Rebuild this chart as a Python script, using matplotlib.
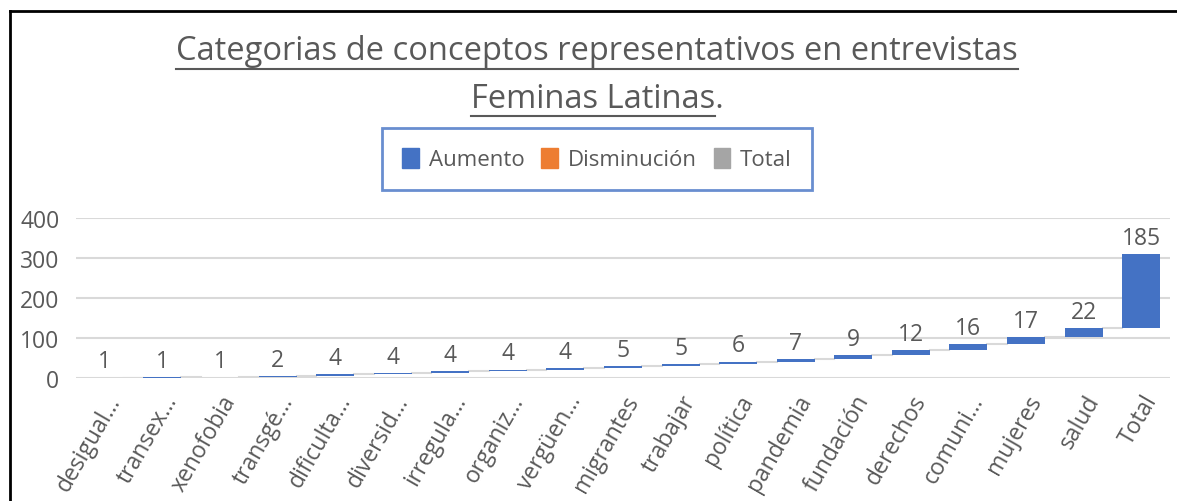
import matplotlib
matplotlib.use('Agg')
from matplotlib import pyplot as plt
from matplotlib import font_manager
from matplotlib.patches import Rectangle
from matplotlib.lines import Line2D

categorias = ['desigual…', 'transex…', 'xenofobia', 'transgé…', 'dificulta…', 'diversid…',
              'irregula…', 'organiz…', 'vergüen…', 'migrantes', 'trabajar', 'política',
              'pandemia', 'fundación', 'derechos', 'comuni…', 'mujeres', 'salud', 'Total']
valores = [1, 1, 1, 2, 4, 4, 4, 4, 4, 5, 5, 6, 7, 9, 12, 16, 17, 22, 185]
y_ticks = [0, 100, 200, 300, 400]
leyenda = ['Aumento', 'Disminución', 'Total']

azul = '#4472C4'
naranja = '#ED7D31'
gris = '#A5A5A5'
texto = '#595959'

nombres = [f.name for f in font_manager.fontManager.ttflist]
fuente = 'Liberation Sans Narrow' if 'Liberation Sans Narrow' in nombres else 'Open Sans'
plt.rcParams['font.family'] = [fuente, 'DejaVu Sans']

fig = plt.figure(figsize=(11.77, 5.02), dpi=100)
ax = fig.add_axes([76 / 1177, 123 / 502, 1094 / 1177, 160 / 502])

# waterfall: cada barra empieza donde termina la anterior
inicio = []
acum = 0
for v in valores:
    inicio.append(acum)
    acum += v

x = list(range(len(valores)))
ax.bar(x, valores, bottom=inicio, width=0.66, color=azul, zorder=3)
for i, v in enumerate(valores):
    ax.annotate(str(v), (i, inicio[i] + v), xytext=(0, 3), textcoords='offset points',
                ha='center', va='bottom', fontsize=16.5, color=texto)
    if i < len(valores) - 1:
        ax.plot([i + 0.33, i + 1 - 0.33], [inicio[i] + v] * 2, color='#D9D9D9', lw=1.5, zorder=2)

ax.set_xlim(-0.5, len(valores) - 0.5)
ax.set_ylim(0, 400)
ax.set_yticks(y_ticks)
ax.set_yticklabels([str(t) for t in y_ticks], fontsize=16.5, color=texto)
ax.set_xticks(x)
ax.set_xticklabels(categorias, rotation=60, ha='right', rotation_mode='anchor',
                   fontsize=16.5, color=texto)
ax.tick_params(axis='x', length=0, pad=9)
ax.tick_params(axis='y', length=0, pad=12)
ax.grid(axis='y', color='#D9D9D9', lw=1.5, zorder=0)
for s in ax.spines.values():
    s.set_visible(False)

# titulo subrayado
t1 = fig.text(597 / 1177, 1 - 52 / 502, 'Categorias de conceptos representativos en entrevistas',
              ha='center', va='center', fontsize=23.5, color=texto)
t2 = fig.text(597 / 1177, 1 - 99 / 502, 'Feminas Latinas.',
              ha='center', va='center', fontsize=23.5, color=texto)
punto = fig.text(0, 0, '.', fontsize=23.5, alpha=0)
fig.canvas.draw()
r = fig.canvas.get_renderer()
W, H = fig.bbox.width, fig.bbox.height
b1 = t1.get_window_extent(r)
b2 = t2.get_window_extent(r)
wp = punto.get_window_extent(r).width
fig.add_artist(Line2D([b1.x0 / W, b1.x1 / W], [(b1.y0 - 1) / H] * 2, color=texto, lw=1.5))
fig.add_artist(Line2D([b2.x0 / W, (b2.x1 - wp) / W], [(b2.y0 - 1) / H] * 2, color=texto, lw=1.5))

# leyenda
hs = [Rectangle((0, 0), 1, 1, color=c) for c in [azul, naranja, gris]]
leg = fig.legend(hs, leyenda, loc='center', bbox_to_anchor=(597 / 1177, 1 - 160 / 502),
                 ncol=3, fontsize=16, frameon=True, fancybox=False, handlelength=0.75,
                 handleheight=1.05, handletextpad=0.45, columnspacing=0.75, borderpad=0.9)
leg.get_frame().set_edgecolor(azul)
leg.get_frame().set_linewidth(2)
for tx in leg.get_texts():
    tx.set_color(texto)

# marco
fig.add_artist(Line2D([10 / 1177, 10 / 1177], [0, 1 - 12 / 502], color='black', lw=2))
fig.add_artist(Line2D([10 / 1177, 1], [1 - 12 / 502] * 2, color='black', lw=2))

fig.savefig('out.png', dpi=100)
